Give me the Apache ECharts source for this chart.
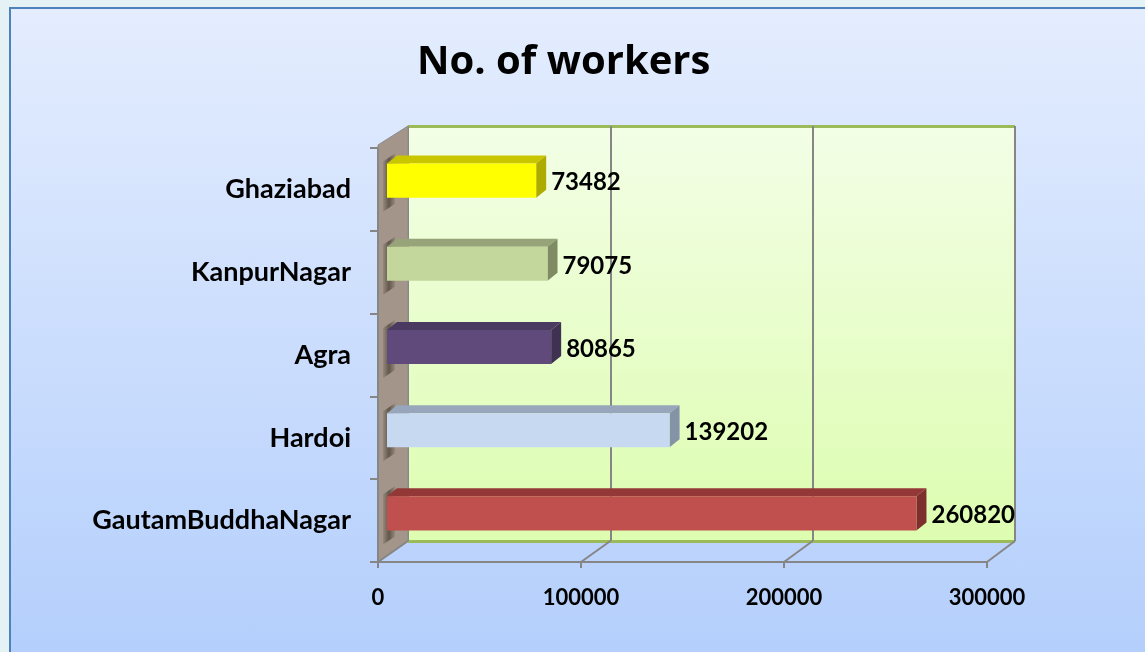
<!DOCTYPE html>
<html lang="en">
<head>
<meta charset="UTF-8">
<title>No. of workers</title>
<script src="https://cdn.jsdelivr.net/npm/echarts@6/dist/echarts.min.js"></script>
<style>
  html, body { margin: 0; padding: 0; background: #e4f1f5; }
  #frame { position: absolute; left: 9px; top: 7px; width: 1136px; height: 645px;
           border-left: 2px solid #4f81bd; border-top: 2px solid #4f81bd;
           background: linear-gradient(#e4edfe, #b4cffc); }
  #main { position: absolute; left: 0; top: 0; width: 1145px; height: 652px; }
</style>
</head>
<body>
<div id="frame"></div>
<div id="main"></div>
<script>
var districts = ['Ghaziabad', 'KanpurNagar', 'Agra', 'Hardoi', 'GautamBuddhaNagar'];
var workers = [73482, 79075, 80865, 139202, 260820];
var frontColors = ['#ffff00', '#c3d69b', '#604a7b', '#c6d9f1', '#c0504d'];
var topColors = ['#c9c600', '#97a47a', '#4a3a61', '#97a6ba', '#943837'];
var sideColors = ['#aeab00', '#7f8c63', '#3e3151', '#8593a6', '#7d2f2d'];
var xTicks = [0, 100000, 200000, 300000];

var font = 'Lato';
var depth = [10, 8];

// layout of the three planes (bars, front axes, back wall)
var barGrid = { left: 387, top: 139, width: 609, height: 416 };
var frontGrid = { left: 378, top: 148, width: 609, height: 414 };
var backGrid = { left: 408, top: 126, width: 607, height: 415 };

var myChart = echarts.init(document.getElementById('main'));

function renderBar(params, api) {
  var i = params.dataIndex;
  var start = api.coord([0, api.value(1)]);
  var end = api.coord([api.value(0), api.value(1)]);
  var h = api.size([0, 1])[1] * 0.41;
  var y0 = end[1] - h / 2, y1 = end[1] + h / 2;
  var x0 = start[0], x1 = end[0];
  var dx = depth[0], dy = depth[1];
  return {
    type: 'group',
    children: [
      // shadow of the bar on the side wall
      { type: 'polygon', shape: { points: [[x0 - 4, y0 - 2], [x0 + 8, y0 - 10], [x0 + 8, y1 + 6], [x0 - 4, y1 + 14]] },
        style: { fill: new echarts.graphic.LinearGradient(0, 0, 1, 0, [
          { offset: 0, color: 'rgba(70,60,50,0.15)' }, { offset: 0.5, color: 'rgba(70,60,50,0.7)' },
          { offset: 1, color: 'rgba(70,60,50,0.15)' }]) } },
      { type: 'polygon', shape: { points: [[x0, y0], [x1, y0], [x1 + dx, y0 - dy], [x0 + dx, y0 - dy]] },
        style: { fill: topColors[i] } },
      { type: 'polygon', shape: { points: [[x1, y0], [x1 + dx, y0 - dy], [x1 + dx, y1 - dy], [x1, y1]] },
        style: { fill: sideColors[i] } },
      { type: 'rect', shape: { x: x0, y: y0, width: x1 - x0, height: y1 - y0 },
        style: { fill: frontColors[i] } },
      { type: 'text', x: x1 + dx + 5, y: end[1] + 2,
        style: { text: String(api.value(0)), fill: '#000', font: 'bold 24px ' + font,
                 verticalAlign: 'middle', align: 'left' } }
    ]
  };
}

var option = {
  backgroundColor: 'transparent',
  animation: false,
  title: {
    text: 'No. of workers',
    left: 412,
    top: 38,
    textStyle: { fontFamily: 'Open Sans', fontWeight: 'bold', fontSize: 40, color: '#000' }
  },
  grid: [
    { left: barGrid.left, top: barGrid.top, width: barGrid.width, height: barGrid.height },
    { left: frontGrid.left, top: frontGrid.top, width: frontGrid.width, height: frontGrid.height },
    { left: backGrid.left, top: backGrid.top, width: backGrid.width, height: backGrid.height,
      show: true, borderWidth: 0, z: 0,
      backgroundColor: new echarts.graphic.LinearGradient(0, 0, 0, 1, [
        { offset: 0, color: '#f3fee6' }, { offset: 1, color: '#ddfdb0' }]) }
  ],
  xAxis: [
    { gridIndex: 0, type: 'value', min: 0, max: 300000, show: false },
    { gridIndex: 1, type: 'value', min: 0, max: 300000, interval: 100000,
      axisLine: { show: true, lineStyle: { color: '#868686', width: 2 } },
      axisTick: { show: true, length: 6, lineStyle: { color: '#868686', width: 2 } },
      splitLine: { show: false },
      axisLabel: { color: '#000', fontFamily: font, fontWeight: 'bold', fontSize: 22, margin: 25,
                   formatter: function (v) { return String(v); } } },
    { gridIndex: 2, type: 'value', min: 0, max: 300000, interval: 100000,
      axisLine: { show: false }, axisTick: { show: false }, axisLabel: { show: false },
      splitLine: { show: true, lineStyle: { color: '#868686', width: 2 } } }
  ],
  yAxis: [
    { gridIndex: 0, type: 'category', inverse: true, data: districts, show: false },
    { gridIndex: 1, type: 'category', inverse: true, data: districts,
      axisLine: { show: true, lineStyle: { color: '#868686', width: 2 } },
      axisTick: { show: true, length: 8, lineStyle: { color: '#868686', width: 2 } },
      axisLabel: { color: '#000', fontFamily: font, fontWeight: 'bold', fontSize: 27, margin: 27 },
      z: 4 },
    { gridIndex: 2, type: 'value', min: 0, max: 1, interval: 1,
      axisLine: { show: false }, axisTick: { show: false }, axisLabel: { show: false },
      splitLine: { show: true, lineStyle: { color: '#9bbb59', width: 3 } } }
  ],
  series: [{
    type: 'custom',
    name: 'No. of workers',
    xAxisIndex: 0,
    yAxisIndex: 0,
    renderItem: renderBar,
    clip: false,
    z: 10,
    encode: { x: 0, y: 1 },
    data: workers.map(function (w, i) { return [w, i]; })
  }]
};

myChart.setOption(option);

// side wall and floor lines, placed from the axes
var frontBottom = frontGrid.top + frontGrid.height;
var backBottom = backGrid.top + backGrid.height;
var walls = [{
  type: 'polygon', z: 3,
  shape: { points: [[frontGrid.left, frontGrid.top - 3], [backGrid.left, backGrid.top],
                    [backGrid.left, backBottom], [frontGrid.left, frontBottom]] },
  style: { fill: '#a39589', stroke: '#8a8a8a', lineWidth: 1 }
}];
xTicks.forEach(function (v) {
  var fx = myChart.convertToPixel({ xAxisIndex: 1 }, v);
  var bx = myChart.convertToPixel({ xAxisIndex: 2 }, v);
  walls.push({
    type: 'line', z: 3,
    shape: { x1: fx, y1: frontBottom, x2: bx, y2: backBottom },
    style: { stroke: '#868686', lineWidth: 2 }
  });
});
myChart.setOption({ graphic: walls });
</script>
</body>
</html>
